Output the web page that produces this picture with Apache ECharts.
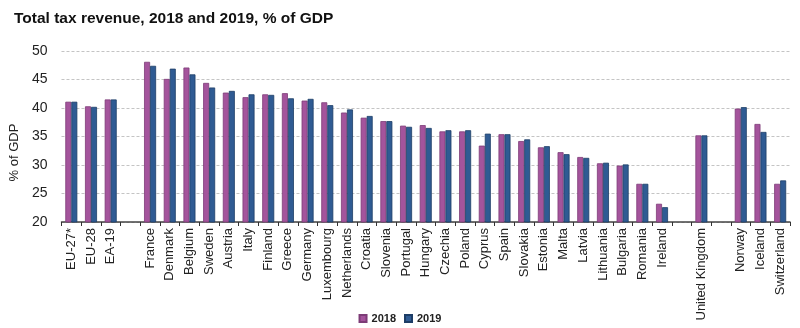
<!DOCTYPE html>
<html><head><meta charset="utf-8">
<script src="https://cdn.jsdelivr.net/npm/echarts@6/dist/echarts.min.js"></script>
<style>html,body{margin:0;padding:0;background:#fff}#c{width:800px;height:328px}</style>
</head><body><div id="c"></div>
<script>
const categories = ['EU-27*','EU-28','EA-19',' ','France','Denmark','Belgium','Sweden','Austria','Italy','Finland','Greece','Germany','Luxembourg','Netherlands','Croatia','Slovenia','Portugal','Hungary','Czechia','Poland','Cyprus','Spain','Slovakia','Estonia','Malta','Latvia','Lithuania','Bulgaria','Romania','Ireland','  ','United Kingdom','   ','Norway','Iceland','Switzerland'];
const values2018 = [41.1,40.3,41.5,null,48.1,45.1,47.1,44.4,42.7,41.9,42.4,42.6,41.3,41.0,39.2,38.3,37.7,36.9,37.0,35.9,35.9,33.4,35.4,34.2,33.1,32.25,31.4,30.3,29.9,26.7,23.2,null,35.2,null,39.9,37.2,26.7];
const values2019 = [41.1,40.2,41.5,null,47.4,46.9,45.9,43.6,43.0,42.4,42.3,41.7,41.6,40.5,39.75,38.6,37.7,36.7,36.5,36.1,36.1,35.5,35.4,34.5,33.3,31.9,31.25,30.4,30.1,26.7,22.6,null,35.2,null,40.15,35.8,27.3];
const seriesNames = ['2018','2019'];
const yTicks = {min:20, max:50, interval:5};

const chart = echarts.init(document.getElementById('c'), null, {renderer:'canvas'});
const font = 'Arial, "Liberation Sans", sans-serif';
chart.setOption({
  animation:false,
  title:{text:'Total tax revenue, 2018 and 2019, % of GDP', left:9, top:6,
    textStyle:{fontFamily:font, fontSize:15.5, fontWeight:'bold', color:'#111'}},
  legend:{data:seriesNames, bottom:-1, left:'center', itemWidth:7, itemHeight:7, itemGap:8,
    icon:'rect', textStyle:{fontFamily:font, fontSize:11, fontWeight:'bold', color:'#222'}},
  grid:{left:58, right:10, top:51, bottom:106},
  xAxis:{type:'category', data:categories, boundaryGap:true,
    axisLine:{lineStyle:{color:'#444', width:1.5}},
    axisTick:{show:true, alignWithLabel:false, length:4, lineStyle:{color:'#333'}},
    axisLabel:{rotate:90, interval:0, fontFamily:font, fontSize:13, color:'#222', margin:6}},
  yAxis:{type:'value', min:yTicks.min, max:yTicks.max, interval:yTicks.interval,
    name:'% of GDP', nameLocation:'middle', nameGap:24, nameRotate:90,
    nameTextStyle:{fontFamily:font, fontSize:13, color:'#222', padding:[8,32,0,0]},
    axisLine:{show:false}, axisTick:{show:false},
    axisLabel:{fontFamily:font, fontSize:14, color:'#222', margin:14},
    splitLine:{lineStyle:{color:'#c4c4c4', type:[3,2]}}},
  series:[
    {name:seriesNames[0], type:'bar', data:values2018, barWidth:6, barGap:'0%',
      itemStyle:{color:'#a4549c', borderColor:'#7d3c77', borderWidth:0.8}},
    {name:seriesNames[1], type:'bar', data:values2019, barWidth:6, barGap:'0%',
      itemStyle:{color:'#2f5b93', borderColor:'#1d3d66', borderWidth:0.8}}
  ]
});
</script></body></html>
